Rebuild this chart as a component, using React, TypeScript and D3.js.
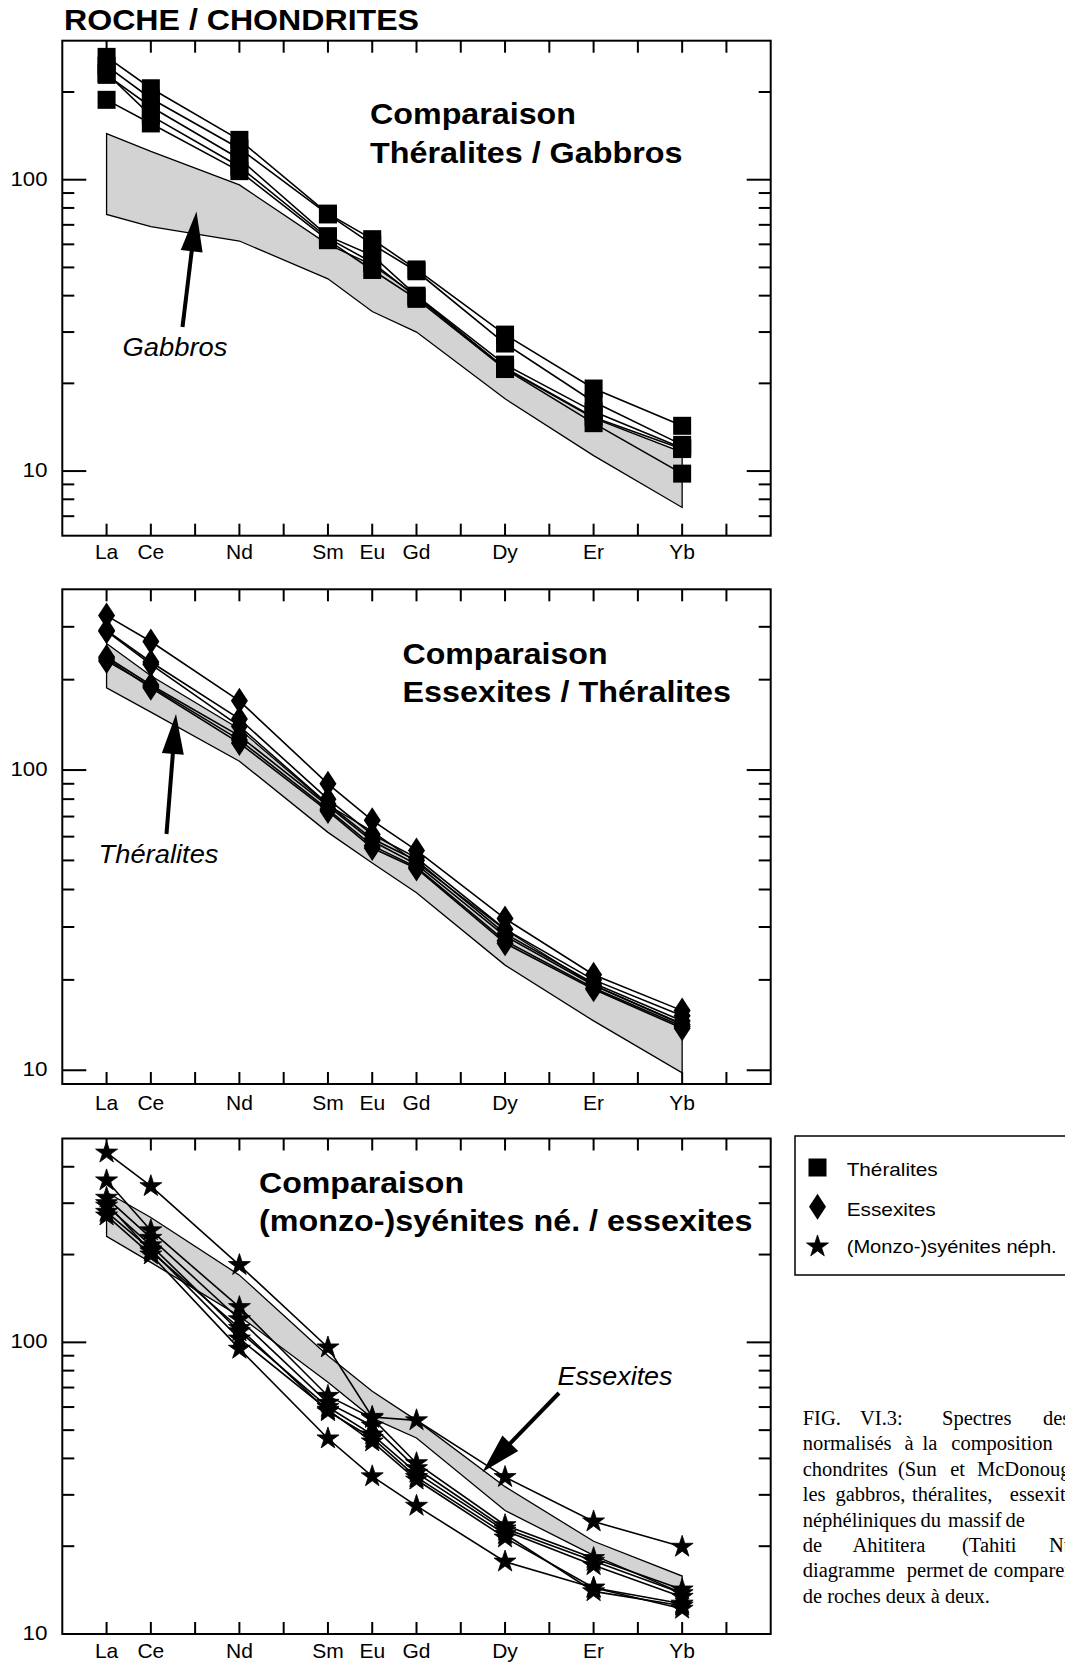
import React, { useEffect } from 'react';
import * as d3 from 'd3';

// ---------- DATA ----------
const ELEMENTS = ['La', 'Ce', 'Pr', 'Nd', 'Pm', 'Sm', 'Eu', 'Gd', 'Tb', 'Dy', 'Ho', 'Er', 'Tm', 'Yb', 'Lu'];
const LABELLED = ['La', 'Ce', 'Nd', 'Sm', 'Eu', 'Gd', 'Dy', 'Er', 'Yb'];
const REE = ['La', 'Ce', 'Nd', 'Sm', 'Eu', 'Gd', 'Dy', 'Er', 'Yb'];

const theralites: number[][] = [
  [264, 206, 137, 76.5, 62.5, 49.2, 29.4, 19.2, 14.3],
  [246, 190, 128, 76, 60, 48.5, 27.4, 17.3, 12.3],
  [229, 178, 118, 64, 55, 40, 23.2, 16.0, 12.0],
  [232, 166, 111, 63, 52, 39.5, 22.6, 15.3, 11.9],
  [188, 156, 107, 62, 49, 39, 22.4, 14.6, 9.8],
];

const gabbrosUpper = [144, 125, 96, 60, 51, 40, 22.5, 15.2, 11.6];
const gabbrosLower = [76, 69, 61.6, 45.7, 35.3, 30, 17.7, 11.3, 7.5];

const essexites: number[][] = [
  [327, 268, 170, 90, 68, 54, 32, 20.8, 15.8],
  [292, 229, 148, 80, 61, 51, 29.5, 20.0, 15.2],
  [290, 225, 140, 77, 59, 50, 28.5, 19.5, 14.6],
  [238, 192, 130, 76, 58, 48.5, 28, 19.2, 14.2],
  [231, 190, 126, 74, 56, 47.5, 27, 18.8, 14.0],
  [235, 188, 123, 73, 55, 47, 26.5, 18.6, 13.8],
];

const syenites: number[][] = [
  [447, 343, 184, 96, 55.5, 54, 34.5, 24.3, 19.9],
  [359, 242, 132, 65.5, 55, 38.5, 23.6, 18.2, 14.2],
  [313, 228, 120, 62, 51.8, 37, 23, 17.8, 13.8],
  [294, 215, 109, 60, 48.3, 35.7, 22.6, 17.2, 13.4],
  [280, 208, 103, 58.7, 45.7, 33.8, 21.4, 14.4, 12.7],
  [272, 200, 95, 46.8, 34.7, 27.5, 17.7, 14.4, 12.2],
  [300, 205, 112, 58, 47, 34.5, 22, 14, 12.5],
];

const panelTitles = [
  ['Comparaison', 'Théralites / Gabbros'],
  ['Comparaison', 'Essexites / Théralites'],
  ['Comparaison', '(monzo-)syénites né. / essexites'],
];
const bandLabels = ['Gabbros', 'Théralites', 'Essexites'];
const yDomains = [[6, 300], [9, 400], [10, 500]];
const majorTicks = [10, 100];
const minorTicks = [7, 8, 9, 20, 30, 40, 50, 60, 70, 80, 90, 200, 300, 400];

const legendLabels = ['Théralites', 'Essexites', '(Monzo-)syénites néph.'];
const captionLines: string[][] = [
  ['FIG.', 'VI.3:', 'Spectres', 'des'],
  ['normalisés', 'à', 'la', 'composition'],
  ['chondrites', '(Sun', 'et', 'McDonough'],
  ['les', 'gabbros,', 'théralites,', 'essexites'],
  ['néphéliniques', 'du', 'massif', 'de'],
  ['de', 'Ahititera', '(Tahiti', 'Nui'],
  ['diagramme', 'permet', 'de', 'comparer'],
  ['de roches deux à deux.'],
];

// ---------- LAYOUT ----------
const W = 1065;
const H = 1666;
const FL = 62.3;
const FR = 770.7;
const SANS = '"Liberation Sans", Arial, Helvetica, sans-serif';
const SERIF = '"Liberation Serif", "Times New Roman", serif';

const panels = [
  {
    top: 40.7, bottom: 535.7, labelBase: 559.3,
    titleX: 370, titleBase: [124, 163.3], titleLen: [206, 312.5],
    band: 'gabbros', series: theralites, marker: 'square',
    label: { x: 122.5, y: 356, len: 105 },
    arrow: { x1: 182.5, y1: 327, x2: 196.5, y2: 211.5 },
  },
  {
    top: 589.3, bottom: 1084, labelBase: 1109.5,
    titleX: 402.5, titleBase: [664.2, 701.9], titleLen: [205, 328.5],
    band: 'theralites', series: essexites, marker: 'diamond',
    label: { x: 98.5, y: 863, len: 120 },
    arrow: { x1: 166.5, y1: 834, x2: 176, y2: 714 },
  },
  {
    top: 1138.5, bottom: 1634, labelBase: 1658.3,
    titleX: 259, titleBase: [1192.8, 1231.2], titleLen: [205, 493.5],
    band: 'essexites', series: syenites, marker: 'star',
    label: { x: 557.5, y: 1384.6, len: 115 },
    arrow: { x1: 559, y1: 1393, x2: 482.5, y2: 1472 },
  },
];

const x = d3.scaleLinear().domain([0, ELEMENTS.length + 1]).range([FL, FR]);
const xOf = (el: string) => x(ELEMENTS.indexOf(el) + 1);

const starPath = d3.symbol(d3.symbolStar, 150)() as string;

function Marker({ type, cx, cy }: { type: string; cx: number; cy: number }) {
  if (type === 'square') return <rect x={cx - 9} y={cy - 9} width={18} height={18} fill="#000" />;
  if (type === 'diamond')
    return <path d={`M${cx},${cy - 13}L${cx + 8.5},${cy}L${cx},${cy + 13}L${cx - 8.5},${cy}Z`} fill="#000" />;
  return <path d={starPath} transform={`translate(${cx},${cy})`} fill="#000" stroke="#000" strokeWidth={0.8} />;
}

function Arrow({ x1, y1, x2, y2 }: { x1: number; y1: number; x2: number; y2: number }) {
  const dx = x2 - x1, dy = y2 - y1;
  const L = Math.hypot(dx, dy);
  const ux = dx / L, uy = dy / L;
  const nx = -uy, ny = ux;
  const hl = 40, hw = 11;
  const bx = x2 - ux * hl, by = y2 - uy * hl;
  return (
    <g>
      <line x1={x1} y1={y1} x2={bx + ux * 2} y2={by + uy * 2} stroke="#000" strokeWidth={4} />
      <path d={`M${x2},${y2}L${bx + nx * hw},${by + ny * hw}L${bx - nx * hw},${by - ny * hw}Z`} fill="#000" />
    </g>
  );
}

function Panel({ p, i }: { p: any; i: number }) {
  const dom = yDomains[i];
  const y = d3.scaleLog().domain(dom).range([p.bottom, p.top]);
  const line = d3.line<number>().x((_, k) => xOf(REE[k])).y((v) => y(v));

  let upper: number[], lower: number[];
  if (p.band === 'gabbros') { upper = gabbrosUpper; lower = gabbrosLower; }
  else {
    const src = p.band === 'theralites' ? theralites : essexites;
    upper = REE.map((_, k) => d3.max(src, (s) => s[k]) as number);
    lower = REE.map((_, k) => d3.min(src, (s) => s[k]) as number);
  }
  const area = d3.area<number>()
    .x((_, k) => xOf(REE[k]))
    .y0((_, k) => y(lower[k]))
    .y1((_, k) => y(upper[k]));
  const bandPath = area(upper.map((v) => v)) as string;

  const ticks = minorTicks.filter((t) => t > dom[0] && t < dom[1]);
  const majors = majorTicks.filter((t) => t >= dom[0] && t <= dom[1]);

  return (
    <g>
      <path d={bandPath} fill="#d3d3d3" stroke="none" />
      <path d={bandPath} fill="none" stroke="#000" strokeWidth={1.3} />
      {p.series.map((s: number[], k: number) => (
        <path key={k} d={line(s) as string} fill="none" stroke="#000" strokeWidth={1.6} />
      ))}
      {p.series.map((s: number[], k: number) =>
        s.map((v, j) => <Marker key={`${k}-${j}`} type={p.marker} cx={xOf(REE[j])} cy={y(v)} />)
      )}
      <rect x={FL} y={p.top} width={FR - FL} height={p.bottom - p.top} fill="none" stroke="#000" strokeWidth={2} />
      {ELEMENTS.map((el) => (
        <g key={el}>
          <line x1={xOf(el)} x2={xOf(el)} y1={p.top} y2={p.top + 12} stroke="#000" strokeWidth={2} />
          <line x1={xOf(el)} x2={xOf(el)} y1={p.bottom} y2={p.bottom - 12} stroke="#000" strokeWidth={2} />
        </g>
      ))}
      {ticks.map((t) => (
        <g key={`m${t}`}>
          <line x1={FL} x2={FL + 12} y1={y(t)} y2={y(t)} stroke="#000" strokeWidth={2} />
          <line x1={FR} x2={FR - 12} y1={y(t)} y2={y(t)} stroke="#000" strokeWidth={2} />
        </g>
      ))}
      {majors.map((t) => (
        <g key={`M${t}`}>
          <line x1={FL} x2={FL + 24} y1={y(t)} y2={y(t)} stroke="#000" strokeWidth={2} />
          <line x1={FR} x2={FR - 24} y1={y(t)} y2={y(t)} stroke="#000" strokeWidth={2} />
          <text x={47.5} y={y(t) + 6} textAnchor="end" fontFamily={SANS} fontSize={20}
            textLength={t >= 100 ? 37 : 25} lengthAdjust="spacingAndGlyphs">{d3.format('d')(t)}</text>
        </g>
      ))}
      {LABELLED.map((el) => (
        <text key={el} x={xOf(el)} y={p.labelBase} textAnchor="middle" fontFamily={SANS} fontSize={21}>{el}</text>
      ))}
      {panelTitles[i].map((t, k) => (
        <text key={k} x={p.titleX} y={p.titleBase[k]} fontFamily={SANS} fontWeight="bold" fontSize={30}
          textLength={p.titleLen[k]} lengthAdjust="spacingAndGlyphs">{t}</text>
      ))}
      <text x={p.label.x} y={p.label.y} fontFamily={SANS} fontStyle="italic" fontSize={25}
        textLength={p.label.len} lengthAdjust="spacingAndGlyphs">{bandLabels[i]}</text>
      <Arrow {...p.arrow} />
    </g>
  );
}

export default function App() {
  useEffect(() => {
    document.body.style.margin = '0';
  }, []);
  const legendMarkers = ['square', 'diamond', 'star'];
  const legendY = [1167.5, 1206.7, 1246.5];
  const legendBase = [1176, 1216, 1253.3];
  const legendLen = [91, 89, 210];
  const capX = [
    [802.7, 860, 942, 1043],
    [802.7, 904.5, 922.6, 951.3],
    [802.7, 898, 950.2, 977],
    [802.7, 835.4, 912, 1009.8],
    [802.7, 920.5, 948, 1005.5],
    [802.7, 852.5, 962, 1049],
    [802.7, 906.7, 968.3, 993.8],
    [802.7],
  ];
  return (
    <svg width={W} height={H} style={{ position: 'absolute', left: 0, top: 0, background: '#fff' }}>
      <rect width={W} height={H} fill="#fff" />
      <text x={64} y={30} fontFamily={SANS} fontWeight="bold" fontSize={30} textLength={355}
        lengthAdjust="spacingAndGlyphs">ROCHE / CHONDRITES</text>
      {panels.map((p, i) => <Panel key={i} p={p} i={i} />)}
      <rect x={795} y={1136} width={300} height={139} fill="#fff" stroke="#000" strokeWidth={1.5} />
      {legendLabels.map((l, k) => (
        <g key={l}>
          <Marker type={legendMarkers[k]} cx={817.5} cy={legendY[k]} />
          <text x={846.7} y={legendBase[k]} fontFamily={SANS} fontSize={18.5}
            textLength={legendLen[k]} lengthAdjust="spacingAndGlyphs">{l}</text>
        </g>
      ))}
      {captionLines.map((words, li) => (
        <text key={li} y={1425 + li * 25.4} fontFamily={SERIF} fontSize={20.5}>
          {words.map((w, wi) => (
            <tspan key={wi} x={capX[li][wi]}>{w}</tspan>
          ))}
        </text>
      ))}
    </svg>
  );
}
